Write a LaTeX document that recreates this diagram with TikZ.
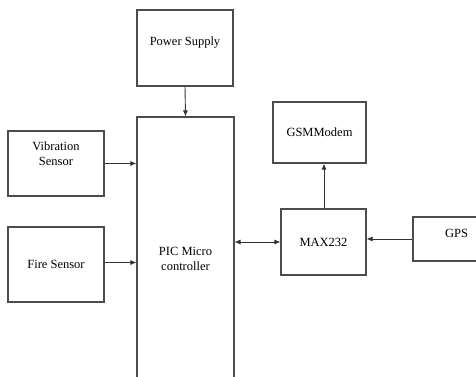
\documentclass[tikz,border=0pt]{standalone}
\usepackage{fontspec}
\setmainfont{Liberation Serif}
\usepackage{tikz}
\usetikzlibrary{arrows.meta,positioning,calc}

\begin{document}
\begin{tikzpicture}[
  x=1pt,y=-1pt,
  block/.style={draw=black!70,line width=1.1pt,fill=white,
                minimum width=#1,inner sep=0pt,align=center,
                font=\fontsize{12.5}{15}\selectfont},
  arrow/.style={-{Latex[length=6pt,width=5pt]},line width=0.9pt,draw=black!80},
  twoway/.style={{Latex[length=6pt,width=5pt]}-{Latex[length=6pt,width=5pt]},line width=0.9pt,draw=black!80}
]
\useasboundingbox (0,0) rectangle (476,377);
\clip (0,0) rectangle (476,377);
% blocks
\node[block=96pt,minimum height=76pt,text depth=13pt] (power) at (185,48) {Power Supply};
\node[block=97pt,minimum height=283pt] (pic) at (185.5,258.5) {PIC Micro\\controller};
\node[block=96pt,minimum height=65pt,text depth=19pt] (vib) at (56,163.5) {Vibration\\Sensor};
\node[block=96pt,minimum height=75pt] (fire) at (56,264.5) {Fire Sensor};
\node[block=93pt,minimum height=61pt] (gsm) at (319.5,132.5) {GSMModem};
\node[block=85pt,minimum height=66pt] (max) at (323.5,242) {MAX232};
\node[block=87pt,minimum height=44pt,text depth=12pt] (gps) at (456.5,239) {GPS};
% links
\draw[arrow] (power.south) -- (pic.north);
\draw[arrow] (vib.east) -- (vib.east -| pic.west);
\draw[arrow] ([yshift=2pt]fire.east) -- ([yshift=2pt]fire.east -| pic.west);
\draw[arrow] ([xshift=0.5pt]max.north) -- ([xshift=0.5pt]max.north |- gsm.south);
\draw[twoway] (max.west -| pic.east) -- (max.west);
\draw[arrow] (gps.west) -- (gps.west -| max.east);
\end{tikzpicture}
\end{document}
